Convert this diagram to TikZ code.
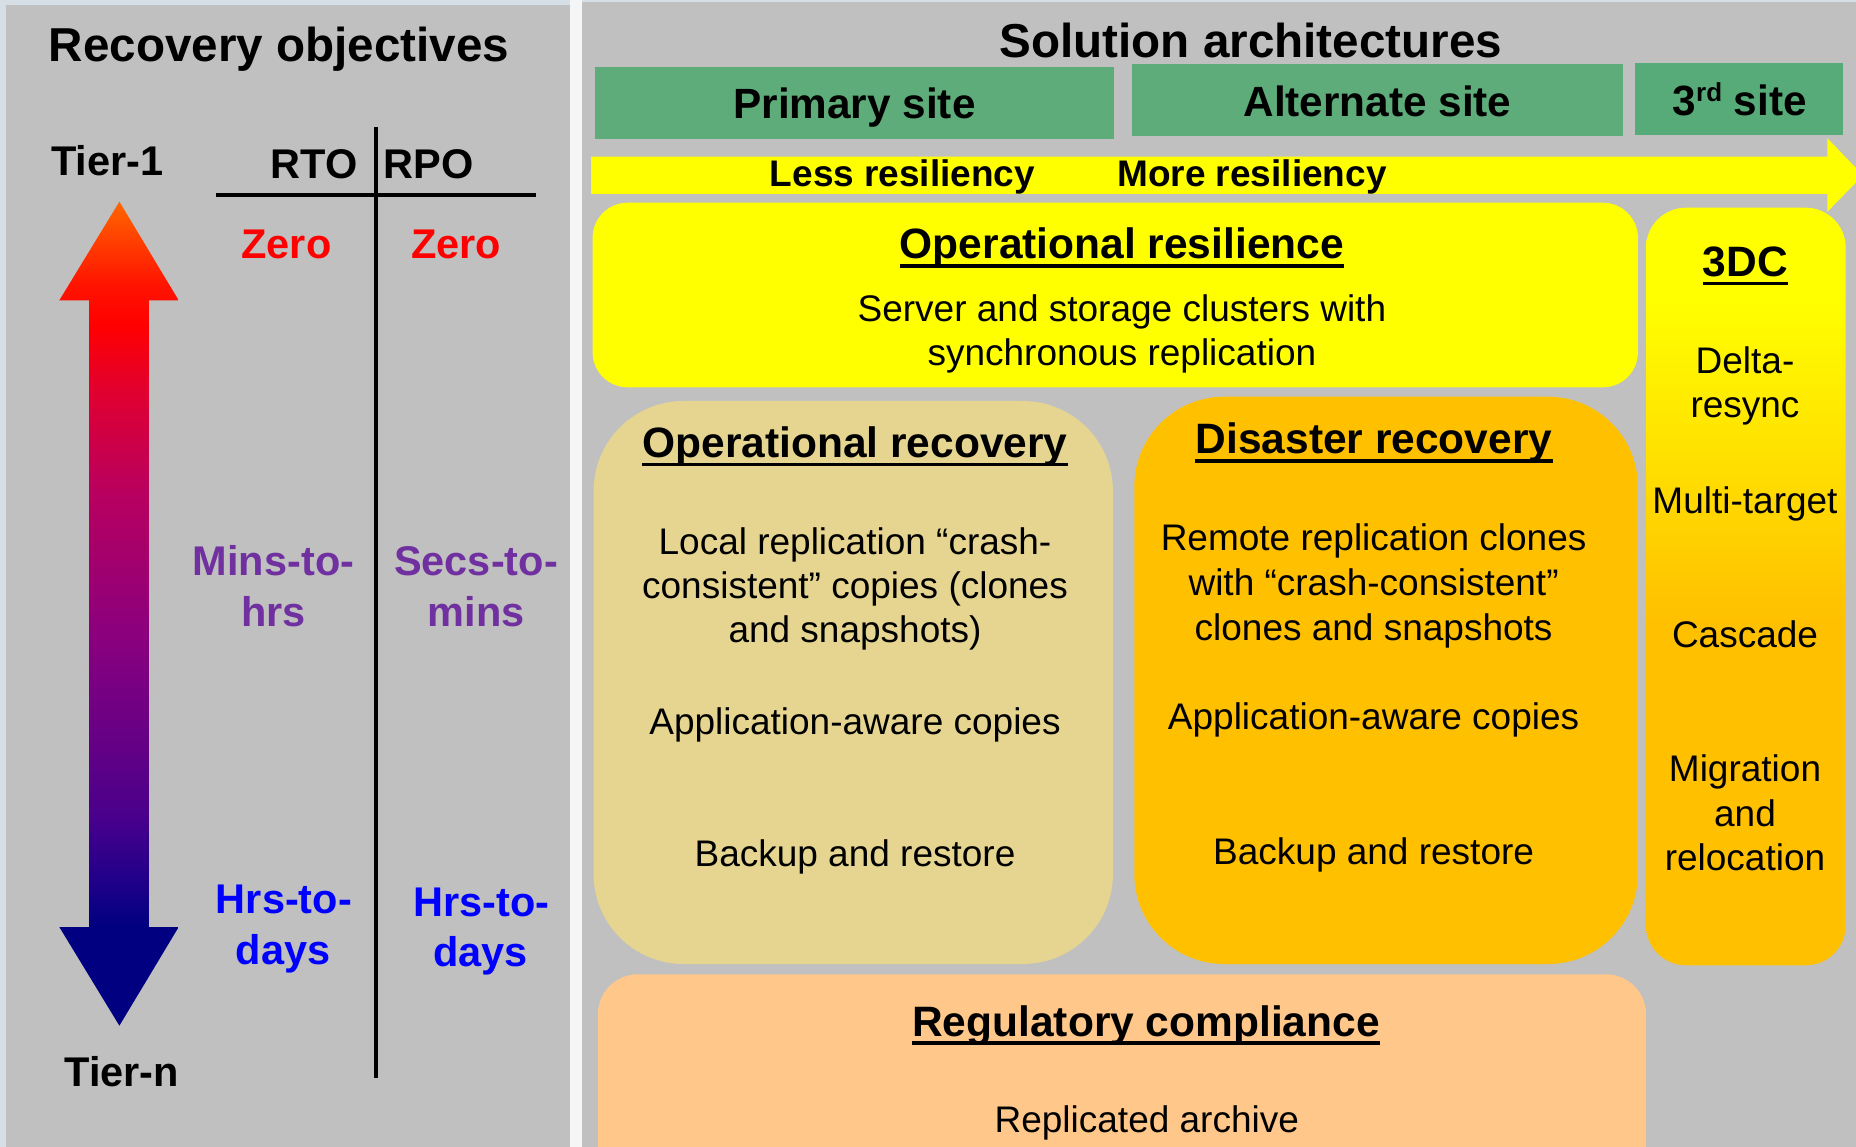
\documentclass[tikz,border=0pt]{standalone}
\usepackage{fontspec}
\setmainfont{Liberation Sans}
\definecolor{panelgray}{HTML}{C0C0C0}
\definecolor{bgblue}{HTML}{D6DFE5}
\definecolor{stripc}{HTML}{F4F5F7}
\definecolor{sitegreen}{HTML}{5DAC7A}
\definecolor{sitegreenb}{HTML}{56AB78}
\definecolor{ryellow}{HTML}{FFFF00}
\definecolor{oprec}{HTML}{E5D590}
\definecolor{amber}{HTML}{FFC000}
\definecolor{peach}{HTML}{FFC78A}
\definecolor{zred}{HTML}{FF0000}
\definecolor{mpurple}{HTML}{7030A0}
\definecolor{hblue}{HTML}{0000FF}
\definecolor{navyc}{HTML}{000080}
\definecolor{ga}{HTML}{22008A}
\definecolor{gb}{HTML}{4A008B}
\definecolor{gc}{HTML}{8A007E}
\definecolor{gd}{HTML}{B8005F}
\definecolor{ge}{HTML}{E2002E}
\definecolor{gf}{HTML}{FF0000}
\definecolor{gg}{HTML}{FF1400}
\definecolor{gh}{HTML}{FF6600}
\pgfdeclareverticalshading{tiershade}{100bp}{color(0bp)=(navyc); color(31bp)=(navyc); color(34bp)=(ga); color(37.7bp)=(gb); color(48.6bp)=(gc); color(57.3bp)=(gd); color(63.7bp)=(ge); color(67.5bp)=(gf); color(70bp)=(gg); color(75bp)=(gh); color(100bp)=(gh)}
\pgfdeclareverticalshading{dcshade}{100bp}{color(0bp)=(amber); color(47.8bp)=(amber); color(68.9bp)=(ryellow); color(100bp)=(ryellow)}
\tikzset{
  lbl/.style={inner sep=0pt, anchor=base, font=\fontsize{41.5}{48}\selectfont\bfseries},
  ttl/.style={inner sep=0pt, anchor=base, font=\fontsize{47.6}{56}\selectfont\bfseries},
  sitelbl/.style={inner sep=0pt, anchor=base, font=\fontsize{42.3}{50}\selectfont\bfseries},
  resil/.style={inner sep=0pt, anchor=base, font=\fontsize{37}{44}\selectfont\bfseries},
  head/.style={inner sep=0pt, anchor=base, font=\fontsize{42.5}{50}\selectfont\bfseries},
  body/.style={inner sep=0pt, anchor=base, font=\fontsize{37}{44}\selectfont},
  uline/.style={line width=3.5pt},
  sepline/.style={line width=4pt, black},
  sitebox/.style={fill=sitegreen, inner sep=0pt, minimum height=72pt},
  area/.style={inner sep=0pt},
}
\begin{document}
\begin{tikzpicture}[x=1pt,y=-1pt]
\useasboundingbox (0,0) rectangle (1856,1147);
% background and panels
\fill[bgblue] (0,0) rectangle (1856,1147);
\fill[stripc] (570,0) rectangle (582,1147);
\fill[panelgray] (5.7,5) rectangle (570,1160);
\fill[panelgray] (582,2) rectangle (1870,1160);

% ---------- left panel ----------
\node[ttl] (lt) at (279,62) {Recovery objectives};
\node[lbl] (t1) at (107.4,176) {Tier-1};
\node[lbl] (rto) at (314.4,178.5) {RTO};
\node[lbl] (rpo) at (428.6,178.5) {RPO};
\draw[sepline] (375.5,127) -- (375.5,1078);
\draw[sepline] (216,195) -- (535.7,195);
\node[lbl, text=zred] (z1) at (286.4,258.5) {Zero};
\node[lbl, text=zred] (z2) at (456,258.5) {Zero};
\node[lbl, text=mpurple] (m1a) at (273.5,575.5) {Mins-to-};
\node[lbl, text=mpurple] (m1b) at (273.5,626.5) {hrs};
\node[lbl, text=mpurple] (m2a) at (476,575.5) {Secs-to-};
\node[lbl, text=mpurple] (m2b) at (476,626.5) {mins};
\node[lbl, text=hblue] (h1a) at (284,913.5) {Hrs-to-};
\node[lbl, text=hblue] (h1b) at (283,964) {days};
\node[lbl, text=hblue] (h2a) at (481.5,916) {Hrs-to-};
\node[lbl, text=hblue] (h2b) at (480.5,966.5) {days};
\node[lbl] (tn) at (121.7,1086.5) {Tier-n};
\shade[shading=tiershade] (119.4,201.7) -- (178.7,300.4) -- (148.9,300.4) -- (148.9,927) -- (178.7,927) -- (119.4,1025.7) -- (59.3,927) -- (89.2,927) -- (89.2,300.4) -- (59.3,300.4) -- cycle;

% ---------- right panel ----------
\node[ttl] (rt) at (1250.8,57.5) {Solution architectures};
\node[sitebox, minimum width=519.2pt] (ps) at (854.3,102.7) {};
\node[sitebox, minimum width=491.2pt] (as) at (1377.4,100) {};
\node[sitebox, fill=sitegreenb, minimum width=207.9pt] (ts) at (1739,99) {};
\node[sitelbl] (psl) at (854.5,119) {Primary site};
\node[sitelbl] (asl) at (1377.5,117) {Alternate site};
\node[sitelbl] (tsl) at (1739.7,116) {3\raisebox{14pt}{\fontsize{26}{26}\selectfont rd} site};

% boxes
\node[area, fill=ryellow, rounded corners=35pt, minimum width=1045.3pt, minimum height=184.6pt] (orb) at (1115.25,295) {};
\node[area, fill=oprec, rounded corners=90pt, minimum width=519.3pt, minimum height=563pt] (ocb) at (853.25,682.5) {};
\node[area, fill=amber, rounded corners=90pt, minimum width=503.6pt, minimum height=567.3pt] (drb) at (1386.1,680.35) {};
\node[area, shade, shading=dcshade, rounded corners=40pt, minimum width=199.7pt, minimum height=757.6pt] (dcb) at (1745.85,586.5) {};
\node[area, fill=peach, rounded corners=40pt, minimum width=1048.1pt, minimum height=225.7pt] (rcb) at (1121.95,1087.15) {};

% resiliency arrow
\fill[ryellow] (591,156.7) -- (1827.4,156.7) -- (1827.4,138.3) -- (1863,175.3) -- (1827.4,211.7) -- (1827.4,194) -- (591,194) -- cycle;
\node[resil] (less) at (902.5,187) {Less resiliency};
\node[resil] (more) at (1252,187) {More resiliency};

% operational resilience
\node[head] (orh) at (1121.9,259) {Operational resilience};
\draw[uline] ([yshift=-7pt]orh.base west) -- ([yshift=-7pt]orh.base east);
\node[body] (or1) at (1121.9,322) {Server and storage clusters with};
\node[body] (or2) at (1121.9,366) {synchronous replication};

% operational recovery
\node[head] (och) at (855,457.5) {Operational recovery};
\draw[uline] ([yshift=-7pt]och.base west) -- ([yshift=-7pt]och.base east);
\node[body] (oc1) at (855,554.5) {Local replication “crash-};
\node[body] (oc2) at (855,598.5) {consistent” copies (clones};
\node[body] (oc3) at (855,642.5) {and snapshots)};
\node[body] (oc4) at (855,734.3) {Application-aware copies};
\node[body] (oc5) at (855,866.3) {Backup and restore};

% disaster recovery
\node[head] (drh) at (1374,453.8) {Disaster recovery};
\draw[uline] ([yshift=-7pt]drh.base west) -- ([yshift=-7pt]drh.base east);
\node[body] (dr1) at (1373.6,550.8) {Remote replication clones};
\node[body] (dr2) at (1373.6,595.2) {with “crash-consistent”};
\node[body] (dr3) at (1373.6,640.7) {clones and snapshots};
\node[body] (dr4) at (1373.6,729.5) {Application-aware copies};
\node[body] (dr5) at (1373.6,864.5) {Backup and restore};

% 3DC
\node[head] (dch) at (1745.3,276.5) {3DC};
\draw[uline] ([yshift=-7pt]dch.base west) -- ([yshift=-7pt]dch.base east);
\node[body] (dc1) at (1745,373.4) {Delta-};
\node[body] (dc2) at (1745,417.8) {resync};
\node[body] (dc3) at (1745,513.2) {Multi-target};
\node[body] (dc4) at (1745,647.4) {Cascade};
\node[body] (dc5) at (1745,781.6) {Migration};
\node[body] (dc6) at (1745,826) {and};
\node[body] (dc7) at (1745,870.4) {relocation};

% regulatory compliance
\node[head] (rch) at (1146,1036) {Regulatory compliance};
\draw[uline] ([yshift=-7pt]rch.base west) -- ([yshift=-7pt]rch.base east);
\node[body] (rc1) at (1146.8,1132.7) {Replicated archive};
\end{tikzpicture}
\end{document}
